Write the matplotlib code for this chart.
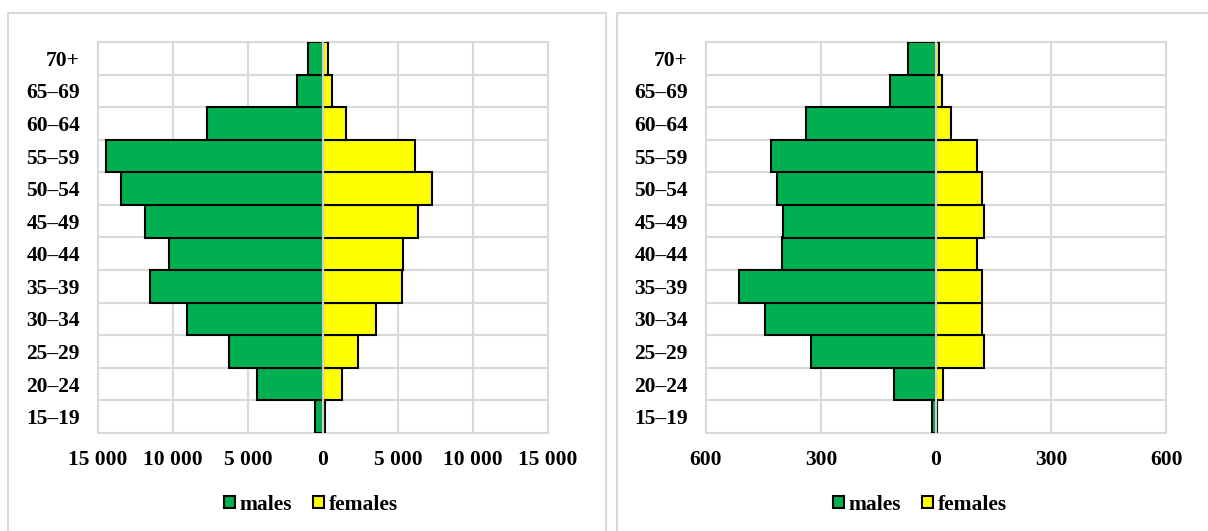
import matplotlib.pyplot as plt
from matplotlib.patches import Rectangle
import numpy as np

plt.rcParams['font.family'] = ['Liberation Serif', 'DejaVu Serif']
plt.rcParams['font.weight'] = 'bold'

AGE_GROUPS = ['15–19', '20–24', '25–29', '30–34', '35–39', '40–44',
              '45–49', '50–54', '55–59', '60–64', '65–69', '70+']

# left panel (thousands scale)
MALES_1 = [560, 4410, 6300, 9060, 11560, 10250, 11860, 13470, 14440, 7730, 1730, 980]
FEMALES_1 = [130, 1280, 2350, 3550, 5260, 5310, 6330, 7250, 6100, 1500, 590, 300]
TICKS_1 = [-15000, -10000, -5000, 0, 5000, 10000, 15000]
TICKLABELS_1 = ['15 000', '10 000', '5 000', '0', '5 000', '10 000', '15 000']

# right panel
MALES_2 = [10, 110, 325, 447, 513, 403, 400, 415, 431, 339, 120, 72]
FEMALES_2 = [3, 17, 126, 121, 121, 106, 124, 120, 107, 38, 15, 9]
TICKS_2 = [-600, -300, 0, 300, 600]
TICKLABELS_2 = ['600', '300', '0', '300', '600']

GREEN = '#00b050'
YELLOW = '#ffff00'
GRID = '#d9d9d9'
FS = 15.5

W, H = 1208, 531
fig = plt.figure(figsize=(W / 100, H / 100), dpi=100)

# panel frames
for x0, x1 in [(8, 605.5), (617, 1215)]:
    fig.patches.append(Rectangle((x0 / W, -0.01), (x1 - x0) / W, 1 - 13 / H + 0.01,
                                 transform=fig.transFigure, fill=False,
                                 edgecolor=GRID, linewidth=1.5))


def pyramid(ax, males, females, ticks, ticklabels):
    y = np.arange(len(AGE_GROUPS))
    ax.barh(y, -np.array(males), height=1.0, color=GREEN, edgecolor='black',
            linewidth=1.5, zorder=3, label='males')
    ax.barh(y, females, height=1.0, color=YELLOW, edgecolor='black',
            linewidth=1.5, zorder=3, label='females')
    ax.axvline(0, color='#d0d0d0', linewidth=1.6, zorder=5)
    ax.set_xlim(ticks[0], ticks[-1])
    ax.set_ylim(-0.5, len(AGE_GROUPS) - 0.5)
    ax.set_xticks(ticks)
    ax.set_xticklabels(ticklabels)
    ax.set_yticks(y)
    ax.set_yticklabels(AGE_GROUPS)
    ax.set_yticks(np.arange(-0.5, len(AGE_GROUPS)), minor=True)
    ax.grid(True, axis='x', color=GRID, linewidth=1.5, zorder=0)
    ax.grid(True, axis='y', which='minor', color=GRID, linewidth=1.5, zorder=0)
    ax.tick_params(axis='both', which='both', length=0, labelsize=FS)
    ax.tick_params(axis='x', pad=12)
    ax.tick_params(axis='y', pad=13)
    for s in ax.spines.values():
        s.set_color(GRID)
        s.set_linewidth(1.5)
    for lab in ax.get_xticklabels() + ax.get_yticklabels():
        lab.set_fontweight('bold')


ax1 = fig.add_axes([98 / W, 1 - 433 / H, (548 - 98) / W, (433 - 42) / H])
pyramid(ax1, MALES_1, FEMALES_1, TICKS_1, TICKLABELS_1)

ax2 = fig.add_axes([706 / W, 1 - 433 / H, (1166 - 706) / W, (433 - 42) / H])
pyramid(ax2, MALES_2, FEMALES_2, TICKS_2, TICKLABELS_2)

for ax, cx in [(ax1, 311), (ax2, 920)]:
    h, l = ax.get_legend_handles_labels()
    fig.legend(h, l, loc='center', bbox_to_anchor=(cx / W, 1 - 505 / H),
               ncol=2, frameon=False, handlelength=0.5,
               handleheight=0.5, handletextpad=0.2, columnspacing=1.0,
               prop={'weight': 'bold', 'size': FS})

fig.savefig('out.png', dpi=100)
